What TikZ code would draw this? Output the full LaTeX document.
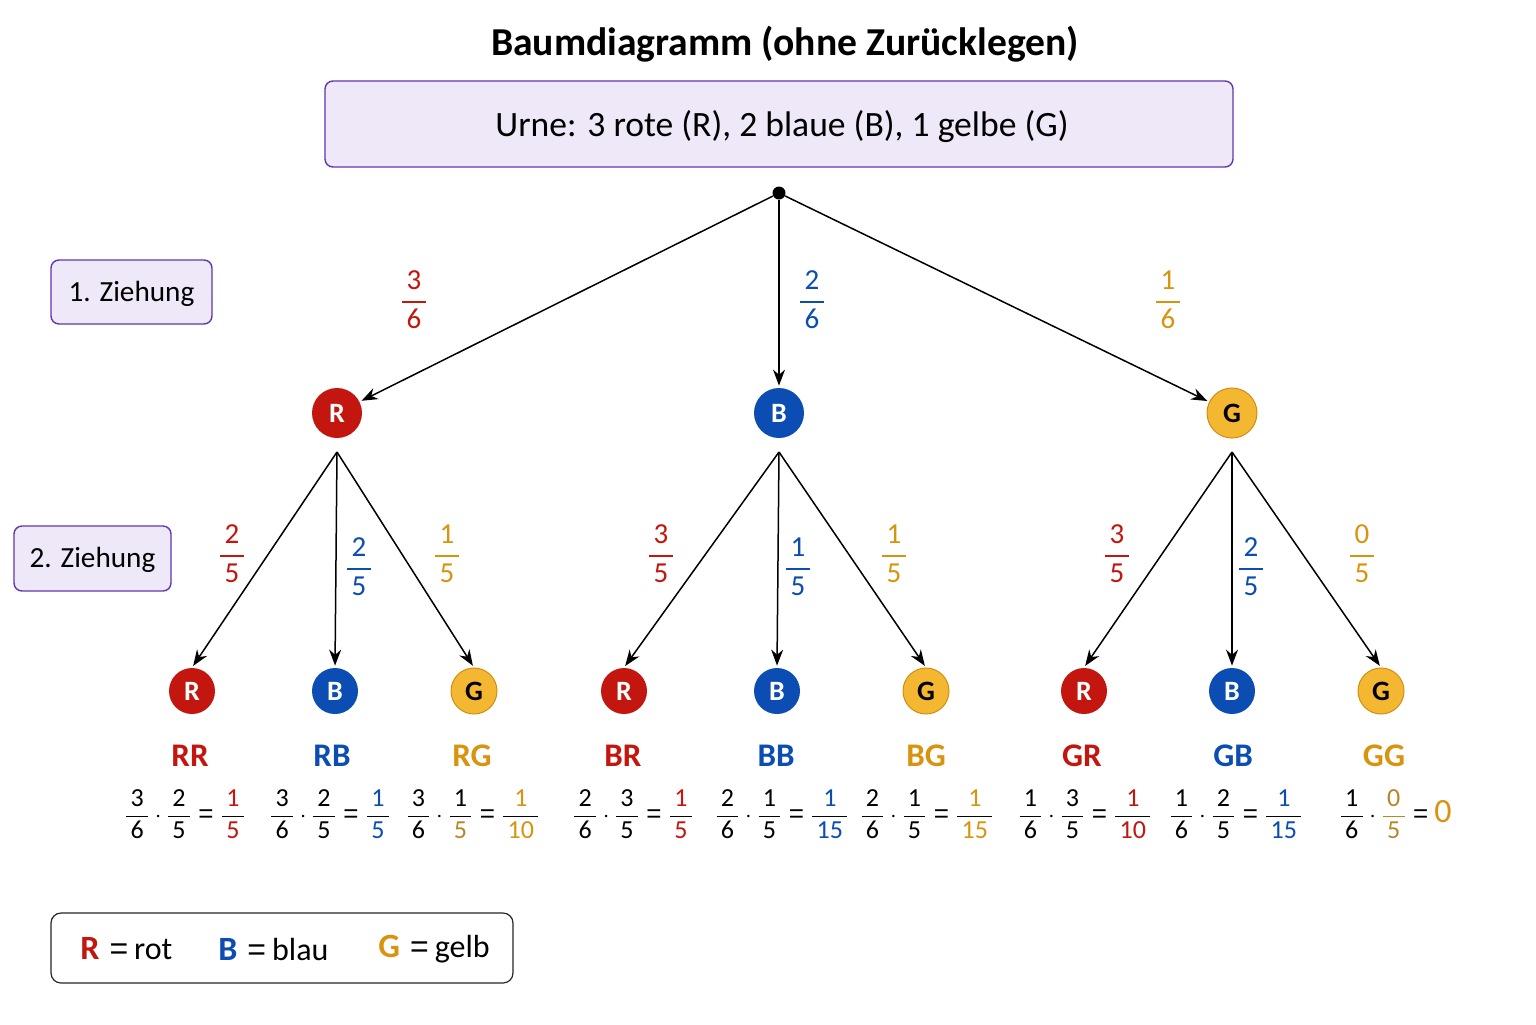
\documentclass[tikz,border=0pt]{standalone}
\usepackage{fontspec}
\setmainfont{Carlito}
\newfontfamily\eqf{Liberation Sans}
\usepackage{amsmath}
\usetikzlibrary{arrows.meta}
\definecolor{cR}{HTML}{C2160E}
\definecolor{cB}{HTML}{0B4DB2}
\definecolor{cG}{HTML}{F4B731}
\definecolor{cGd}{HTML}{D08F12}
\definecolor{cGt}{HTML}{D9940F}
\definecolor{cGb}{HTML}{B8862A}
\definecolor{lav}{HTML}{EFE8F8}
\definecolor{purp}{HTML}{6236B0}
\newcommand\fr[2]{$\genfrac{}{}{0.7pt}{0}{\text{\,#1\,}}{\text{\,#2\,}}$}
\newcommand\mdot{\,$\cdot$\,}
\newcommand\meq{\hspace{3pt}{\eqf =}\hspace{3pt}}
\begin{document}
\begin{tikzpicture}[x=0.5pt,y=-0.5pt,
  lbox/.style={draw=purp,fill=lav,rounded corners=4pt,line width=0.7pt,inner sep=0pt},
  ball/.style={circle,inner sep=0pt,font=\fontsize{14}{14}\selectfont\bfseries},
  bR/.style={ball,fill=cR,text=white},
  bB/.style={ball,fill=cB,text=white},
  bG/.style={ball,fill=cG,draw=cGd,line width=0.5pt,text=black},
  big/.style={minimum size=25pt},
  small/.style={minimum size=23pt},
  arr/.style={-{Stealth[length=8pt,width=6pt]},line width=0.75pt,shorten >=1pt},
  plab/.style={font=\fontsize{14.5}{14.5}\selectfont},
  outc/.style={font=\fontsize{16.5}{16.5}\selectfont\bfseries},
  eq/.style={font=\fontsize{13}{13}\selectfont,inner sep=0pt},
  legt/.style={font=\fontsize{16}{16}\selectfont,anchor=west,inner sep=0pt},
]
\useasboundingbox (0,0) rectangle (1536,1024);
\fill[white] (0,0) rectangle (1536,1024);
% title
\node[font=\fontsize{19.8}{19.8}\selectfont\bfseries] (title) at (785,44) {Baumdiagramm (ohne Zurücklegen)};
% urn box
\node[lbox,minimum width=454pt,minimum height=43pt] (urn) at (779,124) {};
\node[font=\fontsize{17.8}{17.8}\selectfont] (urnt) at (782,127) {Urne: 3 rote (R), 2 blaue (B), 1 gelbe (G)};
% stage labels
\node[lbox,minimum width=80.5pt,minimum height=32pt] (z1) at (131.5,292) {};
\node[font=\fontsize{14.6}{14.6}\selectfont] (z1t) at (131.5,294) {1. Ziehung};
\node[lbox,minimum width=78.5pt,minimum height=32.5pt] (z2) at (92.5,558.5) {};
\node[font=\fontsize{14.6}{14.6}\selectfont] (z2t) at (92.5,560) {2. Ziehung};
% root
\node[circle,fill=black,inner sep=0pt,minimum size=6.5pt] (root) at (779,193) {};
% level 1
\node[bR,big] (R) at (337,413) {R};
\node[bB,big] (B) at (779,413) {B};
\node[bG,big] (G) at (1232,413) {G};
\draw[arr] (root) -- (R);
\draw[arr] (root) -- (B);
\draw[arr] (root) -- (G);
\node[plab,text=cR] (pR) at (414,300) {\fr{3}{6}};
\node[plab,text=cB] (pB) at (812,300) {\fr{2}{6}};
\node[plab,text=cGt] (pG) at (1168,300) {\fr{1}{6}};
% level 2
\foreach \p/\x in {R/337,B/779,G/1232}{
  \coordinate (\p s) at (\x,452);
}
\node[bR,small] (RR) at (192,691) {R};
\node[bB,small] (RB) at (335,691) {B};
\node[bG,small] (RG) at (474,691) {G};
\node[bR,small] (BR) at (624,691) {R};
\node[bB,small] (BB) at (777,691) {B};
\node[bG,small] (BG) at (926,691) {G};
\node[bR,small] (GR) at (1084,691) {R};
\node[bB,small] (GB) at (1232,691) {B};
\node[bG,small] (GG) at (1381,691) {G};
\foreach \p in {R,B,G}{
  \foreach \c in {R,B,G}{
    \draw[arr] (\p s) -- (\p\c.north);
  }
}
% second-stage probabilities
\node[plab,text=cR] at (232,554) {\fr{2}{5}};
\node[plab,text=cB] at (359,567) {\fr{2}{5}};
\node[plab,text=cGt] at (447,554) {\fr{1}{5}};
\node[plab,text=cR] at (661,554) {\fr{3}{5}};
\node[plab,text=cB] at (798,567) {\fr{1}{5}};
\node[plab,text=cGt] at (894,554) {\fr{1}{5}};
\node[plab,text=cR] at (1117,554) {\fr{3}{5}};
\node[plab,text=cB] at (1251,567) {\fr{2}{5}};
\node[plab,text=cGt] at (1362,554) {\fr{0}{5}};
% outcomes
\node[outc,text=cR] (oRR) at (190,756) {RR};
\node[outc,text=cB] (oRB) at (332,756) {RB};
\node[outc,text=cGt] (oRG) at (472,756) {RG};
\node[outc,text=cR] (oBR) at (623,756) {BR};
\node[outc,text=cB] (oBB) at (776,756) {BB};
\node[outc,text=cGt] (oBG) at (926,756) {BG};
\node[outc,text=cR] (oGR) at (1082,756) {GR};
\node[outc,text=cB] (oGB) at (1233,756) {GB};
\node[outc,text=cGt] (oGG) at (1384,756) {GG};
% equations
\node[eq] (eRR) at (185,814) {\fr{3}{6}\mdot\fr{2}{5}\meq\fr{\textcolor{cR}{1}}{\textcolor{cR}{5}}};
\node[eq] (eRB) at (330,814) {\fr{3}{6}\mdot\fr{2}{5}\meq\fr{\textcolor{cB}{1}}{\textcolor{cB}{5}}};
\node[eq] (eRG) at (473,814) {\fr{3}{6}\mdot\fr{1}{\textcolor{cGb}{5}}\meq\fr{\textcolor{cGt}{1}}{\textcolor{cGt}{10}}};
\node[eq] (eBR) at (633,814) {\fr{2}{6}\mdot\fr{3}{5}\meq\fr{\textcolor{cR}{1}}{\textcolor{cR}{5}}};
\node[eq] (eBB) at (782,814) {\fr{2}{6}\mdot\fr{1}{5}\meq\fr{\textcolor{cB}{1}}{\textcolor{cB}{15}}};
\node[eq] (eBG) at (927,814) {\fr{2}{6}\mdot\fr{1}{5}\meq\fr{\textcolor{cGt}{1}}{\textcolor{cGt}{15}}};
\node[eq] (eGR) at (1085,814) {\fr{1}{6}\mdot\fr{3}{5}\meq\fr{\textcolor{cR}{1}}{\textcolor{cR}{10}}};
\node[eq] (eGB) at (1236,814) {\fr{1}{6}\mdot\fr{2}{5}\meq\fr{\textcolor{cB}{1}}{\textcolor{cB}{15}}};
\node[eq] (eGG) at (1395,814) {\fr{1}{6}\mdot{\color{cGb}\fr{0}{5}}\meq{\fontsize{17}{17}\selectfont\textcolor{cGt}{0}}};
% legend
\node[draw=black!85,fill=white,rounded corners=5pt,line width=0.6pt,minimum width=231pt,minimum height=35pt] (leg) at (282,948) {};
\node[legt] (lR) at (80,949) {\textcolor{cR}{\fontsize{17}{17}\selectfont\bfseries R}\hspace{5pt}{\eqf =}\hspace{3pt}rot};
\node[legt] (lB) at (218,949) {\textcolor{cB}{\fontsize{17}{17}\selectfont\bfseries B}\hspace{5pt}{\eqf =}\hspace{3pt}blau};
\node[legt] (lG) at (378,949) {\textcolor{cGt}{\fontsize{17}{17}\selectfont\bfseries G}\hspace{5pt}{\eqf =}\hspace{3pt}gelb};
\end{tikzpicture}
\end{document}
